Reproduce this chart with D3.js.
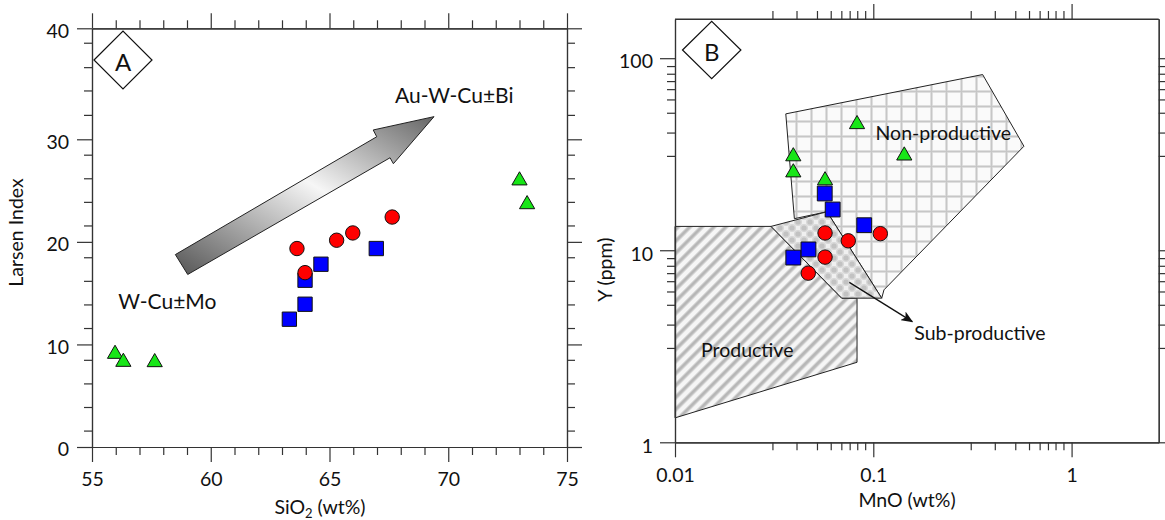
<!DOCTYPE html>
<html>
<head>
<meta charset="utf-8">
<script src="https://cdn.jsdelivr.net/npm/d3@7"></script>
<style>
  body { margin: 0; background: #fff; }
  text { font-family: Lato, "Open Sans", sans-serif; fill: #111; }
</style>
</head>
<body>
<div id="chart"></div>
<script>
// ---- panel A : SiO2 vs Larsen index ----
var siTri  = [55.97, 56.32, 57.64, 73.0, 73.32];
var liTri  = [9.07, 8.29, 8.26, 25.98, 23.66];
var siCirc = [63.63, 63.97, 65.3, 65.98, 67.64];
var liCirc = [19.35, 17.0, 20.16, 20.87, 22.42];
var siSq   = [63.31, 63.97, 63.97, 64.64, 66.97];
var liSq   = [12.46, 13.92, 16.26, 17.82, 19.35];

// outline of the big trend arrow (SiO2, Larsen index)
var arrowSi = [59.03, 58.51, 66.99, 66.84, 69.4, 67.69, 67.55];
var arrowLi = [16.82, 18.76, 30.23, 30.84, 32.04, 27.62, 28.2];

var xTicksA = [55, 60, 65, 70, 75];
var yTicksA = [0, 10, 20, 30, 40];
var yMinorA = [1.6, 3.9, 6.2, 8.5, 11.6, 13.9, 16.2, 18.5, 21.6, 23.9, 26.2, 28.5, 32.2, 34.4, 36.5, 38.7];

// ---- panel B : MnO vs Y ----
var mnTri  = [0.0395, 0.0395, 0.0571, 0.0828, 0.1433];
var yTri   = [30.8, 25.4, 23.1, 45.3, 31.1];
var mnCirc = [0.0571, 0.0748, 0.1085, 0.0571, 0.047];
var yCirc  = [12.3, 11.2, 12.2, 9.21, 7.6];
var mnSq   = [0.0569, 0.0624, 0.09, 0.0471, 0.0395];
var ySq    = [19.75, 16.3, 13.5, 10.1, 9.16];

// fields
var prodMn = [0.01, 0.0305, 0.0693, 0.0828, 0.0828, 0.01];
var prodY  = [13.31, 13.31, 5.63, 5.63, 2.61, 1.34];
var subMn  = [0.0305, 0.0584, 0.1103, 0.0693];
var subY   = [13.31, 15.87, 5.63, 5.63];
var nonMn  = [0.0362, 0.356, 0.575, 0.1132, 0.1103, 0.0584, 0.04];
var nonY   = [51.3, 82.2, 34.8, 6.22, 5.63, 15.87, 14.6];

var xTicksB = [0.01, 0.1, 1];
var yTicksB = [1, 10, 100];
var minorMult = [3.1, 4.1, 5.2, 6.1, 6.9, 7.6, 8.3, 9.1];

var svg = d3.select("#chart")
  .append("svg")
    .attr("width", 1165)
    .attr("height", 520);

var defs = svg.append("defs");

// arrow gradient
var grad = defs.append("linearGradient")
  .attr("id", "arrowGrad")
  .attr("x1", 0).attr("y1", 1).attr("x2", 1).attr("y2", 0);
grad.append("stop").attr("offset", 0).attr("stop-color", "#555");
grad.append("stop").attr("offset", 0.55).attr("stop-color", "#f6f6f6");
grad.append("stop").attr("offset", 1).attr("stop-color", "#666");

// diagonal stripes (Productive)
var pS = defs.append("pattern").attr("id", "stripes")
  .attr("patternUnits", "userSpaceOnUse")
  .attr("width", 8.5).attr("height", 8.5)
  .attr("patternTransform", "rotate(45)");
pS.append("rect").attr("width", 8.5).attr("height", 8.5).attr("fill", "#f6f6f6");
pS.append("rect").attr("x", 0).attr("width", 4.5).attr("height", 8.5).attr("fill", "#d6d6d6");
pS.append("rect").attr("x", 1).attr("width", 2.5).attr("height", 8.5).attr("fill", "#b6b6b6");

// grid (Non-productive)
var pG = defs.append("pattern").attr("id", "grid")
  .attr("patternUnits", "userSpaceOnUse")
  .attr("width", 15).attr("height", 15);
pG.append("rect").attr("width", 15).attr("height", 15).attr("fill", "#fafafa");
pG.append("rect").attr("x", 0).attr("width", 3).attr("height", 15).attr("fill", "#e6e6e6");
pG.append("rect").attr("y", 0).attr("width", 15).attr("height", 3).attr("fill", "#e6e6e6");
pG.append("rect").attr("x", 0.75).attr("width", 1.5).attr("height", 15).attr("fill", "#c6c6c6");
pG.append("rect").attr("y", 0.75).attr("width", 15).attr("height", 1.5).attr("fill", "#c6c6c6");

// checker dots (Sub-productive)
var pD = defs.append("pattern").attr("id", "dots")
  .attr("patternUnits", "userSpaceOnUse")
  .attr("width", 12).attr("height", 12);
pD.append("rect").attr("width", 12).attr("height", 12).attr("fill", "#f0f0f0");
[[0, 0], [12, 0], [0, 12], [12, 12], [6, 6]].forEach(function(c) {
  pD.append("circle").attr("cx", c[0]).attr("cy", c[1]).attr("r", 4).attr("fill", "#d8d8d8");
  pD.append("circle").attr("cx", c[0]).attr("cy", c[1]).attr("r", 2.6).attr("fill", "#c2c2c2");
});

// small arrow head
defs.append("marker")
  .attr("id", "head")
  .attr("viewBox", "0 0 12 10")
  .attr("refX", 11).attr("refY", 5)
  .attr("markerWidth", 12).attr("markerHeight", 10)
  .attr("markerUnits", "userSpaceOnUse")
  .attr("orient", "auto")
  .append("path")
    .attr("d", "M0,0 L12,5 L0,10 L3,5 Z")
    .attr("fill", "#111");

// scales
var xA = d3.scaleLinear().domain([55, 75]).range([92, 567]);
// the top of the original axis is stretched a little above 30
var yA = d3.scaleLinear().domain([0, 30, 40]).range([447, 139.3, 28.3]);

var xB = d3.scaleLog().domain([0.01, 2.75]).range([675, 1158.7]);
var yB = d3.scaleLog().domain([1, 160]).range([442.3, 19]);

function decadeMinor(lo, hi) {
  var out = [];
  for (var p = lo; p <= hi; p *= 10) {
    minorMult.forEach(function(m) {
      var v = p * m;
      if (v < hi) out.push(v);
    });
  }
  return out;
}
var xMinorB = decadeMinor(0.01, 2.75);
var yMinorB = decadeMinor(1, 160);
var xMinorA = d3.range(55, 76, 1).filter(function(v) { return v % 5 !== 0; });

// draw a major + minor axis pair
function axisPair(axisFn, scale, major, minor, transform, labels, pad, dy) {
  var gMaj = svg.append("g")
    .attr("transform", transform)
    .attr("color", "#333")
    .call(axisFn(scale).tickValues(major).tickSize(15).tickSizeOuter(0)
      .tickPadding(pad || 8)
      .tickFormat(labels ? labels : function() { return ""; }));
  svg.append("g")
    .attr("transform", transform)
    .attr("color", "#333")
    .call(axisFn(scale).tickValues(minor).tickSize(8).tickSizeOuter(0).tickFormat(""));
  gMaj.attr("font-size", null).attr("font-family", null);
  gMaj.selectAll("text").style("font-size", "19.5px");
  if (dy) gMaj.selectAll("text").attr("dy", dy);
  svg.selectAll(".domain, .tick line").attr("stroke-width", 1.2);
  return gMaj;
}

// ---------- panel A ----------
var arrowPts = arrowSi.map(function(d, i) { return [xA(d), yA(arrowLi[i])]; });
svg.append("path")
  .attr("d", d3.line()(arrowPts) + "Z")
  .attr("fill", "url(#arrowGrad)")
  .attr("stroke", "#222")
  .attr("stroke-width", 1);

axisPair(d3.axisLeft, yA, yTicksA, yMinorA, "translate(92,0)", d3.format("d"), 8, "0.45em");
axisPair(d3.axisRight, yA, yTicksA, yMinorA, "translate(567,0)", null);
axisPair(d3.axisTop, xA, xTicksA, xMinorA, "translate(0,28.3)", null);
axisPair(d3.axisBottom, xA, xTicksA, xMinorA, "translate(0,447)", d3.format("d"), 10);

svg.selectAll(".sqA")
  .data(siSq).enter()
  .append("path")
    .attr("d", d3.symbol().type(d3.symbolSquare).size(205))
    .attr("transform", function(d, i) { return "translate(" + xA(d) + "," + yA(liSq[i]) + ")"; })
    .attr("fill", "#0000ff").attr("stroke", "#111").attr("stroke-width", 1);

svg.selectAll(".ciA")
  .data(siCirc).enter()
  .append("circle")
    .attr("cx", function(d) { return xA(d); })
    .attr("cy", function(d, i) { return yA(liCirc[i]); })
    .attr("r", 7.2)
    .attr("fill", "#ff0000").attr("stroke", "#111").attr("stroke-width", 1);

svg.selectAll(".trA")
  .data(siTri).enter()
  .append("path")
    .attr("d", d3.symbol().type(d3.symbolTriangle).size(100))
    .attr("transform", function(d, i) { return "translate(" + xA(d) + "," + yA(liTri[i]) + ")"; })
    .attr("fill", "#17e617").attr("stroke", "#111").attr("stroke-width", 1);

svg.append("text")
  .attr("x", xA(67.76)).attr("y", yA(33.24))
  .style("font-size", "21px")
  .text("Au-W-Cu±Bi");
svg.append("text")
  .attr("x", xA(56.11)).attr("y", yA(13.5))
  .style("font-size", "21px")
  .text("W-Cu±Mo");

// panel letter
svg.append("path")
  .attr("d", "M94,60 L123,31 L152,60 L123,89 Z")
  .attr("fill", "#fff").attr("stroke", "#111").attr("stroke-width", 1.2);
svg.append("text")
  .attr("x", 123).attr("y", 70.5)
  .attr("text-anchor", "middle")
  .style("font-size", "24px")
  .text("A");

svg.append("text")
  .attr("transform", "translate(23,232.5) rotate(-90)")
  .attr("text-anchor", "middle")
  .style("font-size", "19.5px")
  .text("Larsen Index");
var xtA = svg.append("text")
  .attr("x", 320).attr("y", 514)
  .attr("text-anchor", "middle")
  .style("font-size", "19.5px");
xtA.append("tspan").text("SiO");
xtA.append("tspan").attr("dy", 4).style("font-size", "13px").text("2");
xtA.append("tspan").attr("dy", -4).text(" (wt%)");

// ---------- panel B ----------
function poly(xs, ys) {
  return d3.line()(xs.map(function(d, i) { return [xB(d), yB(ys[i])]; })) + "Z";
}
svg.append("path").attr("d", poly(prodMn, prodY))
  .attr("fill", "url(#stripes)").attr("stroke", "#222").attr("stroke-width", 1);
svg.append("path").attr("d", poly(nonMn, nonY))
  .attr("fill", "url(#grid)").attr("stroke", "#222").attr("stroke-width", 1);
svg.append("path").attr("d", poly(subMn, subY))
  .attr("fill", "url(#dots)").attr("stroke", "#222").attr("stroke-width", 1);

var fmtB = function(d) { return d >= 1 ? d3.format("d")(d) : String(d); };
axisPair(d3.axisLeft, yB, yTicksB, yMinorB, "translate(675,0)", fmtB, 7, "0.5em");
axisPair(d3.axisRight, yB, yTicksB, yMinorB, "translate(1158.7,0)", null);
axisPair(d3.axisTop, xB, xTicksB.slice(1), xMinorB, "translate(0,19)", null);
axisPair(d3.axisBottom, xB, xTicksB, xMinorB, "translate(0,442.3)", fmtB, 11);
// frame edge along the top (its left end carries no major tick)
svg.append("line")
  .attr("x1", 675).attr("x2", 1158.7).attr("y1", 19).attr("y2", 19)
  .attr("stroke", "#333").attr("stroke-width", 1.2);

svg.selectAll(".sqB")
  .data(mnSq).enter()
  .append("path")
    .attr("d", d3.symbol().type(d3.symbolSquare).size(220))
    .attr("transform", function(d, i) { return "translate(" + xB(d) + "," + yB(ySq[i]) + ")"; })
    .attr("fill", "#0000ff").attr("stroke", "#111").attr("stroke-width", 1);

svg.selectAll(".ciB")
  .data(mnCirc).enter()
  .append("circle")
    .attr("cx", function(d) { return xB(d); })
    .attr("cy", function(d, i) { return yB(yCirc[i]); })
    .attr("r", 7.2)
    .attr("fill", "#ff0000").attr("stroke", "#111").attr("stroke-width", 1);

svg.selectAll(".trB")
  .data(mnTri).enter()
  .append("path")
    .attr("d", d3.symbol().type(d3.symbolTriangle).size(100))
    .attr("transform", function(d, i) { return "translate(" + xB(d) + "," + yB(yTri[i]) + ")"; })
    .attr("fill", "#17e617").attr("stroke", "#111").attr("stroke-width", 1);

// sub-productive pointer
svg.append("line")
  .attr("x1", xB(0.0757)).attr("y1", yB(6.8))
  .attr("x2", xB(0.1573)).attr("y2", yB(4.25))
  .attr("stroke", "#111").attr("stroke-width", 1.3)
  .attr("marker-end", "url(#head)");

svg.append("text")
  .attr("x", xB(0.1026)).attr("y", yB(37.7))
  .style("font-size", "19.5px").text("Non-productive");
svg.append("text")
  .attr("x", xB(0.01352)).attr("y", yB(2.795))
  .style("font-size", "19.5px").text("Productive");
svg.append("text")
  .attr("x", xB(0.161)).attr("y", yB(3.415))
  .style("font-size", "19.5px").text("Sub-productive");

svg.append("path")
  .attr("d", "M682.5,50 L711.7,21.3 L740.9,50 L711.7,78.7 Z")
  .attr("fill", "#fff").attr("stroke", "#111").attr("stroke-width", 1.2);
svg.append("text")
  .attr("x", 711.7).attr("y", 60.5)
  .attr("text-anchor", "middle")
  .style("font-size", "24px")
  .text("B");

svg.append("text")
  .attr("transform", "translate(612,269.7) rotate(-90)")
  .attr("text-anchor", "middle")
  .style("font-size", "19.5px")
  .text("Y (ppm)");
svg.append("text")
  .attr("x", 907).attr("y", 507)
  .attr("text-anchor", "middle")
  .style("font-size", "19.5px")
  .text("MnO (wt%)");
</script>
</body>
</html>
